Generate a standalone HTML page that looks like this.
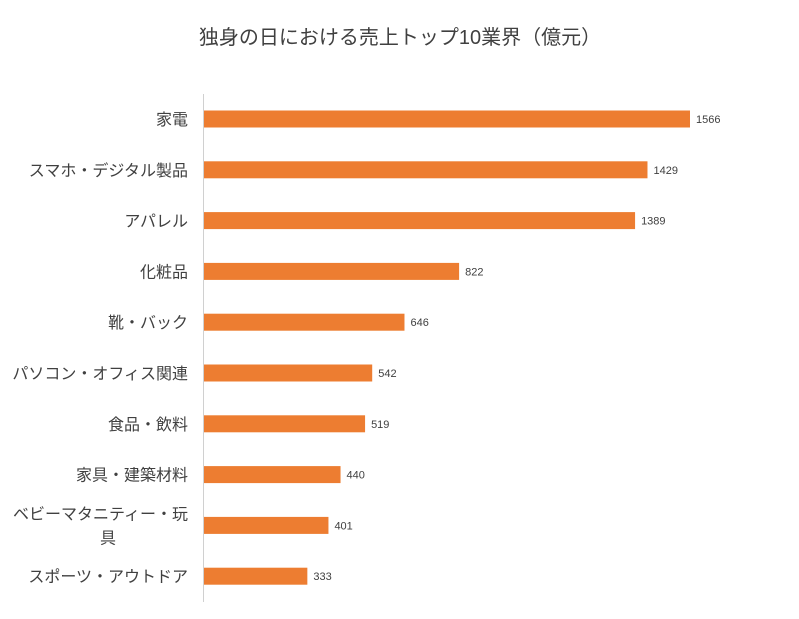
<!DOCTYPE html>
<html><head><meta charset="utf-8"><style>
body{margin:0;background:#fff;}
svg{display:block;font-family:"Liberation Sans","Noto Sans CJK JP",sans-serif;}
</style></head><body>
<svg id="chart" width="799" height="619">
<text x="400" y="44" text-anchor="middle" font-size="20" fill="#404040">独身の日における売上トップ10業界（億元）</text>
<line x1="203.5" y1="94" x2="203.5" y2="602" stroke="#d0d0d0" stroke-width="1"/>
<g id="bars"></g>
</svg>
<script>
const categories=["家電","スマホ・デジタル製品","アパレル","化粧品","靴・バック","パソコン・オフィス関連","食品・飲料","家具・建築材料","ベビーマタニティー・玩具","スポーツ・アウトドア"];
const values=[1566,1429,1389,822,646,542,519,440,401,333];
const valueLabels=["1566","1429","1389","822","646","542","519","440","401","333"];
const ns="http://www.w3.org/2000/svg";
const x0=204, xScale=v=>x0+v*(486/1566);
const yCenter=i=>119+i*50.8;
const g=document.getElementById("bars");
categories.forEach((c,i)=>{
  const yc=yCenter(i);
  const r=document.createElementNS(ns,"rect");
  r.setAttribute("x",x0);r.setAttribute("y",yc-8.5);
  r.setAttribute("width",xScale(values[i])-x0);r.setAttribute("height",17);
  r.setAttribute("fill","#ed7d31");
  
  
  g.appendChild(r);
  const t=document.createElementNS(ns,"text");
  t.setAttribute("x",xScale(values[i])+6);t.setAttribute("y",yc+4);
  t.setAttribute("font-size","11");t.setAttribute("fill","#404040");
  t.textContent=valueLabels[i];
  
  
  g.appendChild(t);
  const l=document.createElementNS(ns,"text");
  l.setAttribute("text-anchor","end");l.setAttribute("font-size","16");l.setAttribute("fill","#404040");
  
  
  if(c==="ベビーマタニティー・玩具"){
    l.setAttribute("x",188);
    const a=document.createElementNS(ns,"tspan");a.setAttribute("x",188);a.setAttribute("y",yc-6);a.textContent="ベビーマタニティー・玩";
    const b=document.createElementNS(ns,"tspan");b.setAttribute("x",116);b.setAttribute("y",yc+18);b.textContent="具";
    l.appendChild(a);l.appendChild(b);
  } else {
    l.setAttribute("x",188);l.setAttribute("y",yc+6);l.textContent=c;
  }
  g.appendChild(l);
});
</script>
</body></html>
